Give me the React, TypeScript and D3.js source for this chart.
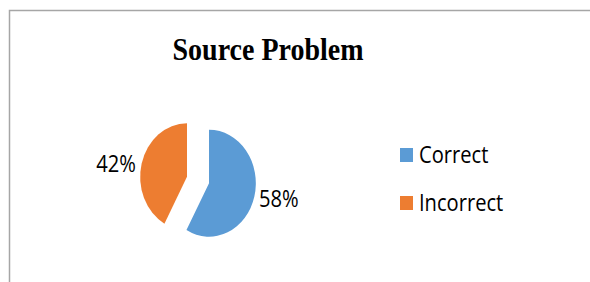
import React, { useEffect, useRef } from "react";
import * as d3 from "d3";

const categories = ["Correct", "Incorrect"];
const values = [58, 42];
const colors = ["#5b9bd5", "#ed7d31"];
const title = "Source Problem";

const App = () => {
  const svgRef = useRef<SVGSVGElement>(null);
  const width = 590;
  const height = 282;

  useEffect(() => {
    const svg = d3.select(svgRef.current);
    svg.selectAll("*").remove();

    const sx = 0.875; // the original picture is squeezed horizontally

    const addText = (x: number, y: number, txt: string, size: number, anchor: string, family: string, bold = false) =>
      svg
        .append("text")
        .attr("transform", `translate(${x},${y}) scale(${sx},1)`)
        .attr("text-anchor", anchor)
        .attr("font-family", family)
        .attr("font-weight", bold ? "bold" : "normal")
        .attr("font-size", size)
        .attr("fill", "#000")
        .text(txt);

    // chart frame (runs off the right and bottom edges)
    svg
      .append("rect")
      .attr("x", 9.5)
      .attr("y", 10.5)
      .attr("width", 620)
      .attr("height", 320)
      .attr("fill", "#fff")
      .attr("stroke", "#a6a6a6")
      .attr("stroke-width", 1.5);

    addText(268, 60, title, 32, "middle", "'Liberation Serif', 'Times New Roman', serif", true);

    const cx = 198;
    const cy = 180;
    const r = 53.5;
    const explode = 13;

    const pie = d3.pie<number>().sort(null).value((d) => d);
    const arcs = pie(values);
    const arc = d3.arc<d3.PieArcDatum<number>>().innerRadius(0).outerRadius(r);

    const g = svg.append("g").attr("transform", `translate(${cx},${cy})`);

    arcs.forEach((a, i) => {
      const mid = (a.startAngle + a.endAngle) / 2;
      const dx = Math.sin(mid) * explode * sx;
      const dy = -Math.cos(mid) * explode;
      g.append("path")
        .attr("transform", `translate(${dx},${dy}) scale(${sx},1)`)
        .attr("d", arc(a))
        .attr("fill", colors[i]);
    });

    // data labels
    const font = "'Open Sans', 'Noto Sans', sans-serif";
    const labelPos = [
      { x: 259, y: 206.5, anchor: "start" },
      { x: 136, y: 171.5, anchor: "end" },
    ];
    arcs.forEach((a, i) => {
      addText(labelPos[i].x, labelPos[i].y, `${a.data}%`, 23, labelPos[i].anchor, font);
    });

    // legend
    const legendY = d3.scalePoint<string>().domain(categories).range([163, 211]);
    categories.forEach((c, i) => {
      const y = legendY(c)!;
      svg
        .append("rect")
        .attr("x", 400)
        .attr("y", y - 15)
        .attr("width", 13)
        .attr("height", 14)
        .attr("fill", colors[i]);
      addText(419, y, c, 23, "start", font);
    });
  }, []);

  return (
    <svg
      ref={svgRef}
      width={width}
      height={height}
      style={{ position: "absolute", left: 0, top: 0 }}
    ></svg>
  );
};

export default App;
